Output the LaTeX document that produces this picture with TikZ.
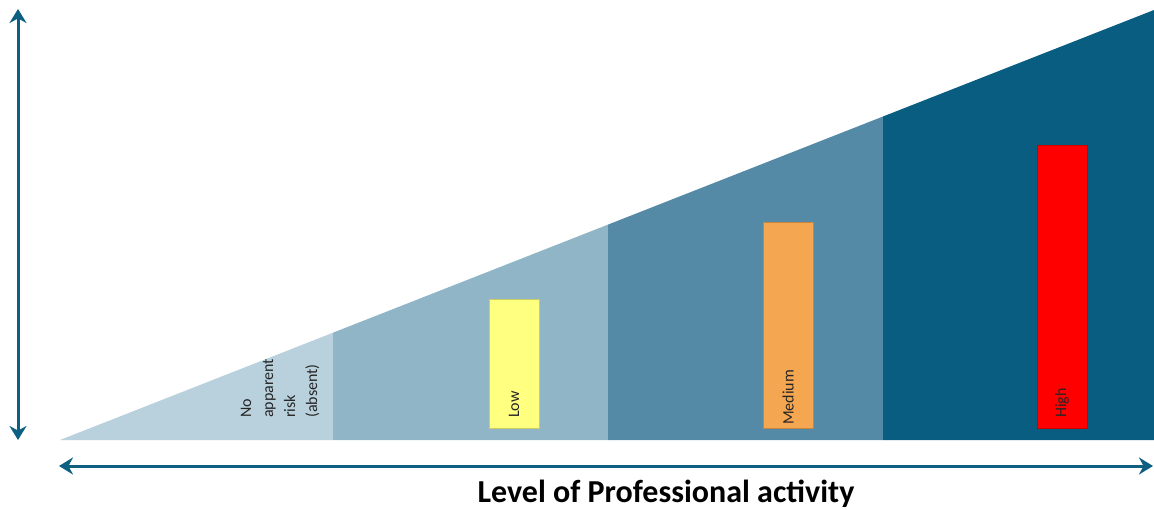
\documentclass[tikz,border=0pt]{standalone}
\usepackage{fontspec}
\setmainfont{Carlito}
\usetikzlibrary{arrows.meta}
\definecolor{lvlA}{RGB}{185,209,220}
\definecolor{lvlB}{RGB}{143,181,198}
\definecolor{lvlC}{RGB}{84,138,165}
\definecolor{lvlD}{RGB}{8,93,128}
\definecolor{axiscol}{RGB}{14,96,130}
\definecolor{barlow}{RGB}{255,255,128}
\definecolor{barmed}{RGB}{245,166,80}
\definecolor{barhigh}{RGB}{255,0,0}
\tikzset{
  axis/.style={draw=axiscol, line width=3pt, {Stealth[length=14pt,width=17pt]}-{Stealth[length=14pt,width=17pt]}},
  riskbar/.style={draw=#1!80!black, line width=0.4pt, fill=#1},
  risklabel/.style={rotate=90, anchor=west, inner sep=0pt, font=\fontsize{16}{22}\selectfont, text=black!85},
  axislabel/.style={font=\bfseries\fontsize{32}{36}\selectfont, text=black}
}
\begin{document}
\begin{tikzpicture}[x=1pt,y=-1pt]
\useasboundingbox (0,0) rectangle (1154,510);
% triangle sections (edge from (60,440) to (1154,10))
\fill[lvlA] (60,440) -- (333,332.7) -- (333,440) -- cycle;
\fill[lvlB] (333,440) -- (333,332.7) -- (608,224.6) -- (608,440) -- cycle;
\fill[lvlC] (608,440) -- (608,224.6) -- (883,116.5) -- (883,440) -- cycle;
\fill[lvlD] (883,440) -- (883,116.5) -- (1154,10) -- (1154,440) -- cycle;
% bars
\path[riskbar=barlow] (489,299) rectangle (539,428);
\path[riskbar=barmed] (763,222) rectangle (813,428);
\path[riskbar=barhigh] (1037,145) rectangle (1087,428);
% labels
\node[risklabel, align=left] (none) at (280,418) {No\\apparent\\risk\\(absent)};
\node[risklabel] (low) at (514,418) {Low};
\node[risklabel] (med) at (788,425) {Medium};
\node[risklabel] (high) at (1062,418) {High};
% axes
\coordinate (vtop) at (18,9);
\coordinate (vbot) at (18,440);
\coordinate (hleft) at (59,466);
\coordinate (hright) at (1153,466);
\draw[axis] (vbot) -- (vtop);
\draw[axis] (hleft) -- (hright);
\node[axislabel] (xlabel) at (666,494) {Level of Professional activity};
\end{tikzpicture}
\end{document}
